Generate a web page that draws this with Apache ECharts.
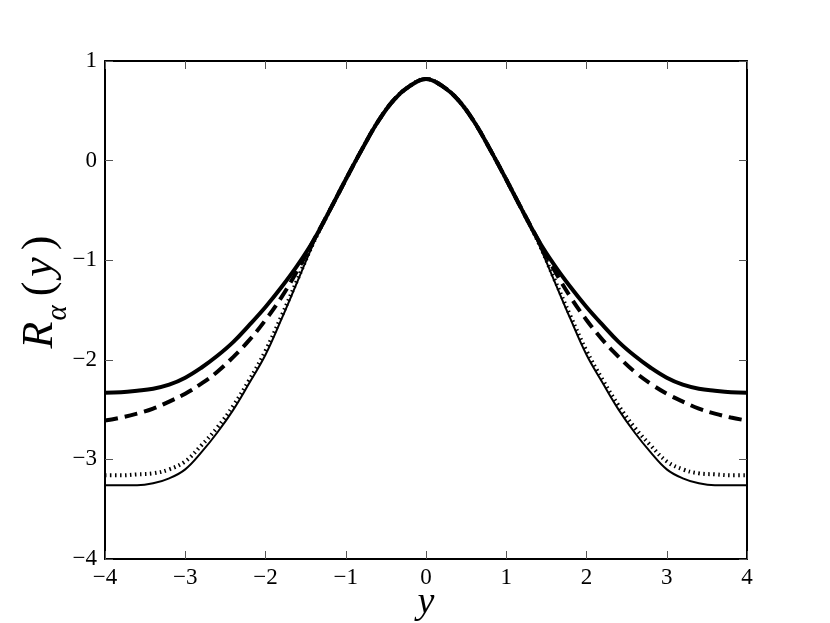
<!DOCTYPE html>
<html>
<head>
<meta charset="utf-8">
<script src="https://cdn.jsdelivr.net/npm/echarts@6/dist/echarts.min.js"></script>
<style>
  html, body { margin: 0; padding: 0; background: #fff; }
  #chart { width: 830px; height: 623px; }
</style>
</head>
<body>
<div id="chart"></div>
<script>
// sample points along y
const ys = [-4.0, -3.8, -3.6, -3.4, -3.2, -3.0, -2.8, -2.6, -2.4, -2.2, -2.0,
  -1.8, -1.6, -1.4, -1.2, -1.0, -0.8, -0.6, -0.4, -0.2, 0.0,
  0.2, 0.4, 0.6, 0.8, 1.0, 1.2, 1.4, 1.6, 1.8, 2.0,
  2.2, 2.4, 2.6, 2.8, 3.0, 3.2, 3.4, 3.6, 3.8, 4.0];

// thick solid curve
const thickSolid = [-2.33, -2.325, -2.31, -2.29, -2.25, -2.18, -2.08, -1.96, -1.82, -1.65, -1.47,
  -1.27, -1.05, -0.80, -0.50, -0.19, 0.11, 0.39, 0.61, 0.75, 0.82,
  0.75, 0.61, 0.39, 0.11, -0.19, -0.50, -0.80, -1.05, -1.27, -1.47,
  -1.65, -1.82, -1.96, -2.08, -2.18, -2.25, -2.29, -2.31, -2.325, -2.33];

// thick dashed curve
const dashed = [-2.61, -2.58, -2.54, -2.49, -2.42, -2.34, -2.24, -2.12, -1.97, -1.80, -1.60,
  -1.37, -1.10, -0.80, -0.50, -0.19, 0.11, 0.39, 0.61, 0.75, 0.82,
  0.75, 0.61, 0.39, 0.11, -0.19, -0.50, -0.80, -1.10, -1.37, -1.60,
  -1.80, -1.97, -2.12, -2.24, -2.34, -2.42, -2.49, -2.54, -2.58, -2.61];

// dotted curve
const dotted = [-3.16, -3.16, -3.15, -3.14, -3.10, -3.02, -2.86, -2.68, -2.46, -2.20, -1.91,
  -1.56, -1.19, -0.82, -0.50, -0.19, 0.11, 0.39, 0.61, 0.75, 0.82,
  0.75, 0.61, 0.39, 0.11, -0.19, -0.50, -0.82, -1.19, -1.56, -1.91,
  -2.20, -2.46, -2.68, -2.86, -3.02, -3.10, -3.14, -3.15, -3.16, -3.16];

// thin solid curve
const thinSolid = [-3.26, -3.26, -3.26, -3.24, -3.19, -3.10, -2.93, -2.73, -2.50, -2.23, -1.95,
  -1.59, -1.21, -0.83, -0.50, -0.19, 0.11, 0.39, 0.61, 0.75, 0.82,
  0.75, 0.61, 0.39, 0.11, -0.19, -0.50, -0.83, -1.21, -1.59, -1.95,
  -2.23, -2.50, -2.73, -2.93, -3.10, -3.19, -3.24, -3.26, -3.26, -3.26];

const pairs = (vals) => ys.map((y, i) => [y, vals[i]]);
const minus = (v) => String(v).replace('-', '\u2212');

const chart = echarts.init(document.getElementById('chart'));

const serif = 'Liberation Serif';
const tickStyle = { show: true, inside: true, length: 8, lineStyle: { color: '#555', width: 1 } };
const frameLine = { show: true, onZero: false, lineStyle: { color: '#000', width: 2 } };

const option = {
  animation: false,
  backgroundColor: '#fff',
  grid: { left: 105, right: 83, top: 61, bottom: 64, outerBoundsMode: 'none', containLabel: false },
  xAxis: [
    {
      type: 'value', min: -4, max: 4, interval: 1,
      axisLine: frameLine, axisTick: tickStyle, splitLine: { show: false },
      axisLabel: { fontFamily: serif, fontSize: 23, color: '#000', margin: 7, formatter: minus },
      name: 'y', nameLocation: 'middle', nameGap: 25, nameMoveOverlap: false,
      nameTextStyle: { fontFamily: serif, fontStyle: 'italic', fontSize: 38, color: '#000' }
    },
    {
      type: 'value', min: -4, max: 4, interval: 1, position: 'top',
      axisLine: frameLine, axisTick: tickStyle, splitLine: { show: false },
      axisLabel: { show: false }
    }
  ],
  yAxis: [
    {
      type: 'value', min: -4, max: 1, interval: 1,
      axisLine: frameLine, axisTick: tickStyle, splitLine: { show: false },
      axisLabel: { fontFamily: serif, fontSize: 23, color: '#000', margin: 8, formatter: minus },
      name: '{R|R}{a|α}{p|(}{y|y}{q|)}', nameLocation: 'middle', nameGap: 40, nameRotate: 90,
      nameMoveOverlap: false,
      nameTextStyle: {
        color: '#000',
        rich: {
          R: { fontFamily: serif, fontStyle: 'italic', fontSize: 44, color: '#000', lineHeight: 50, padding: [0, 1, 0, 36] },
          a: { fontFamily: serif, fontStyle: 'italic', fontSize: 29, color: '#000', verticalAlign: 'bottom', lineHeight: 50, padding: [0, 6, -8, 0] },
          p: { fontFamily: serif, fontSize: 44, color: '#000', lineHeight: 50, padding: [0, 3, 0, 3] },
          y: { fontFamily: serif, fontStyle: 'italic', fontSize: 44, color: '#000', lineHeight: 50, padding: [0, 4, 0, 2] },
          q: { fontFamily: serif, fontSize: 44, color: '#000', lineHeight: 50, padding: [0, 0, 0, 3] }
        }
      }
    },
    {
      type: 'value', min: -4, max: 1, interval: 1, position: 'right',
      axisLine: frameLine, axisTick: tickStyle, splitLine: { show: false },
      axisLabel: { show: false }
    }
  ],
  series: [
    {
      type: 'line', data: pairs(thinSolid), showSymbol: false, smooth: 0.4,
      lineStyle: { color: '#000', width: 2 }
    },
    {
      type: 'line', data: pairs(dotted), showSymbol: false, smooth: 0.4,
      lineStyle: { color: '#000', width: 4, type: [1.5, 3.5], cap: 'butt' }
    },
    {
      type: 'line', data: pairs(dashed), showSymbol: false, smooth: 0.4,
      lineStyle: { color: '#000', width: 4, type: [13, 7], cap: 'butt' }
    },
    {
      type: 'line', data: pairs(thickSolid), showSymbol: false, smooth: 0.4,
      lineStyle: { color: '#000', width: 4 }
    }
  ]
};

chart.setOption(option);
</script>
</body>
</html>
